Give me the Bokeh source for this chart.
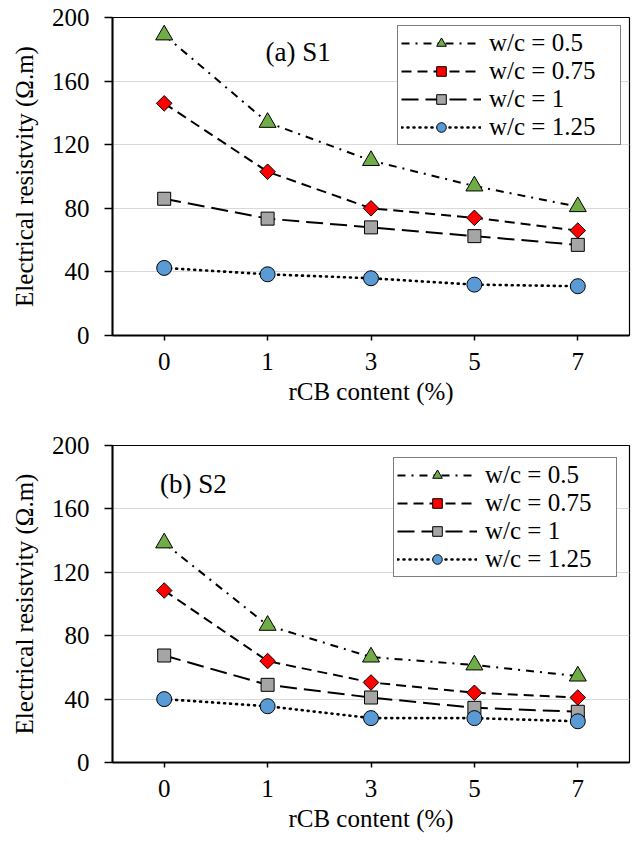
import math
from bokeh.plotting import figure
from bokeh.models import Range1d, FactorRange, Legend, LegendItem, Label, FixedTicker
from bokeh.layouts import column
from bokeh.embed import file_html
from bokeh.resources import INLINE

# ---- data ----
categories = ["0", "1", "3", "5", "7"]
series_names = ["w/c = 0.5", "w/c = 0.75", "w/c = 1", "w/c = 1.25"]

s1_wc050 = [189, 134, 110, 94, 81]
s1_wc075 = [146, 103, 80, 74, 66]
s1_wc100 = [86, 73.5, 68, 62.5, 57]
s1_wc125 = [42.5, 38.5, 36, 32, 31]

s2_wc050 = [138.5, 86.5, 66.5, 61.5, 54.5]
s2_wc075 = [108.5, 64, 50.5, 44, 41]
s2_wc100 = [67.5, 49, 41, 34.5, 32]
s2_wc125 = [40, 35.5, 28, 28, 26]

y_ticks = [0, 40, 80, 120, 160, 200]

x_title = "rCB content (%)"
y_title = "Electrical resistvity (\u03a9.m)"

LABEL_FONT = "'Liberation Serif', 'Times New Roman', serif"
FONT = "'Liberation Serif', Times, serif"
FS = "25px"

styles = [
    dict(marker="triangle", color="#70AD47", size=17, angle=0, dash="8 6 2 6", cap="butt", lw=2),
    dict(marker="square", color="#FF0000", size=11, angle=math.pi / 4, dash="10 6", cap="butt", lw=2),
    dict(marker="square", color="#A5A5A5", size=13, angle=0, dash="17 7", cap="butt", lw=2),
    dict(marker="circle", color="#5B9BD5", size=15, angle=0, dash="1 5", cap="round", lw=2.6),
]


def make(series, panel_text, lab_x, lab_y, height, b_top, b_bottom, leg_margin):
    p = figure(width=634, height=height,
               x_range=FactorRange(factors=categories, range_padding=0),
               y_range=Range1d(0, 200),
               output_backend="svg", toolbar_location=None,
               min_border_left=112, min_border_right=5,
               min_border_top=b_top, min_border_bottom=b_bottom)
    p.background_fill_color = "white"
    p.border_fill_color = "white"
    p.outline_line_color = "black"
    p.outline_line_width = 1.2

    items = []
    for name, vals, st in zip(series_names, series, styles):
        lr = p.line(categories, vals, line_color="black", line_width=st["lw"],
                    line_dash=st["dash"], line_cap=st["cap"])
        sr = p.scatter(categories, vals, marker=st["marker"], size=st["size"],
                       angle=st["angle"], fill_color=st["color"],
                       line_color="black", line_width=1)
        items.append(LegendItem(label=name, renderers=[lr, sr]))

    leg = Legend(items=items, location="top_right",
                 label_text_font=FONT, label_text_font_size=FS,
                 label_text_color="black",
                 glyph_width=80, glyph_height=24, label_height=22,
                 label_standoff=8, label_width=128,
                 spacing=0, padding=3, margin=leg_margin,
                 border_line_color="black", border_line_width=1.5,
                 background_fill_color="white", background_fill_alpha=1)
    p.add_layout(leg)

    p.add_layout(Label(x=lab_x, y=lab_y, text=panel_text, text_font=LABEL_FONT,
                       text_font_size="27px", text_baseline="middle",
                       text_color="black"))

    p.xgrid.visible = False
    p.ygrid.grid_line_color = "#D9D9D9"
    p.ygrid.grid_line_width = 1

    p.yaxis.ticker = FixedTicker(ticks=y_ticks)
    for ax in (p.xaxis, p.yaxis):
        ax.axis_line_color = "black"
        ax.axis_line_width = 2
        ax.major_tick_line_color = "black"
        ax.major_tick_line_width = 1.5
        ax.major_tick_in = 0
        ax.minor_tick_line_color = None
        ax.major_label_text_font = FONT
        ax.major_label_text_font_size = FS
        ax.major_label_text_color = "black"
        ax.axis_label_text_font = FONT
        ax.axis_label_text_font_size = FS
        ax.axis_label_text_font_style = "normal"
        ax.axis_label_text_color = "black"
    p.yaxis.major_tick_out = 8
    p.yaxis.major_label_standoff = 15
    p.yaxis.axis_label_standoff = 11
    p.yaxis.axis_label = y_title
    p.xaxis.major_tick_out = 5
    p.xaxis.major_label_standoff = 12
    p.xaxis.axis_label_standoff = 5
    p.xaxis.axis_label = x_title
    return p


p1 = make([s1_wc050, s1_wc075, s1_wc100, s1_wc125], "(a) S1", 1.48, 178,
          425, 17, 90, 8)
p2 = make([s2_wc050, s2_wc075, s2_wc100, s2_wc125], "(b) S2", 0.46, 176,
          420, 20, 83, 12)

layout = column(p1, p2, spacing=0)

with open("out.html", "w") as f:
    f.write(file_html(layout, INLINE))
